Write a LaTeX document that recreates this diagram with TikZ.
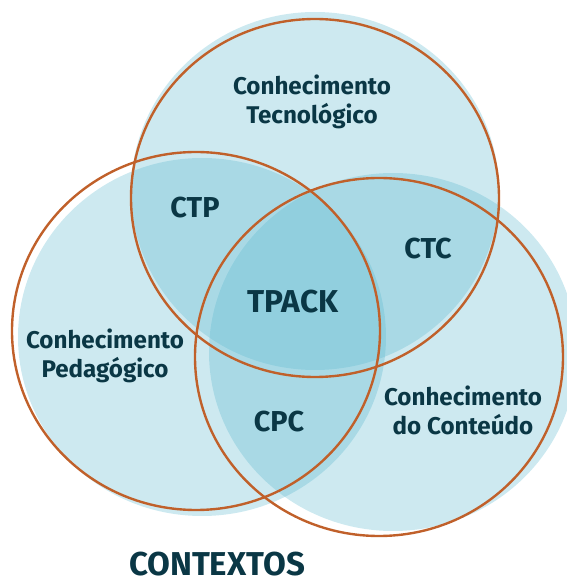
\documentclass[tikz,border=0pt]{standalone}
\usepackage{fontspec}
\setmainfont{Fira Sans}
\usepackage{tikz}
\usetikzlibrary{positioning, backgrounds}
\definecolor{vennblue}{HTML}{58B6CD}
\definecolor{rimorange}{HTML}{C0602A}
\definecolor{labelink}{HTML}{0A3745}
\tikzset{
  % Shaded discs
  venndisc/.style={fill=vennblue, fill opacity=0.3},
  % Outline rings
  vennring/.style={draw=rimorange, line width=1.7pt},
  % Labels
  arealabel/.style={text=labelink, font=\fontsize{17.2}{20.5}\selectfont\bfseries, align=center, inner sep=0pt},
  overlaplabel/.style={text=labelink, font=\fontsize{20.5}{24}\selectfont\bfseries, inner sep=0pt},
  corelabel/.style={text=labelink, font=\fontsize{22.5}{26}\selectfont\bfseries, inner sep=0pt},
}

\begin{document}
\begin{tikzpicture}

  \useasboundingbox (0,0) rectangle (14.175,14.65);

  % Discs (slightly offset from the rings)
  \fill[venndisc] (7.875,9.875) ellipse [x radius=4.6, y radius=4.475];
  \fill[venndisc] (5.05,6.225) ellipse [x radius=4.6, y radius=4.475];
  \fill[venndisc] (9.825,5.85) ellipse [x radius=4.6, y radius=4.475];

  % Rings
  \draw[vennring] (7.875,9.7) ellipse [x radius=4.6, y radius=4.475];
  \draw[vennring] (4.9,6.375) ellipse [x radius=4.6, y radius=4.475];
  \draw[vennring] (9.475,5.725) ellipse [x radius=4.6, y radius=4.475];

  % Knowledge areas
  \node[arealabel] (tec) at (7.8,12.1) {Conhecimento\\Tecnológico};
  \node[arealabel] (ped) at (2.625,5.75) {Conhecimento\\Pedagógico};
  \node[arealabel] (cont) at (11.575,4.4) {Conhecimento\\do Conteúdo};

  % Overlaps
  \node[overlaplabel] (ctp) at (4.875,9.45) {CTP};
  \node[overlaplabel] (ctc) at (10.7,8.425) {CTC};
  \node[overlaplabel] (cpc) at (6.975,4.1) {CPC};
  \node[corelabel] (tpack) at (7.325,7.1) {TPACK};

  % Context
  \node[corelabel, font=\fontsize{23.5}{27}\selectfont\bfseries, anchor=base] (ctx) at (5.425,0.27) {CONTEXTOS};

\end{tikzpicture}
\end{document}
